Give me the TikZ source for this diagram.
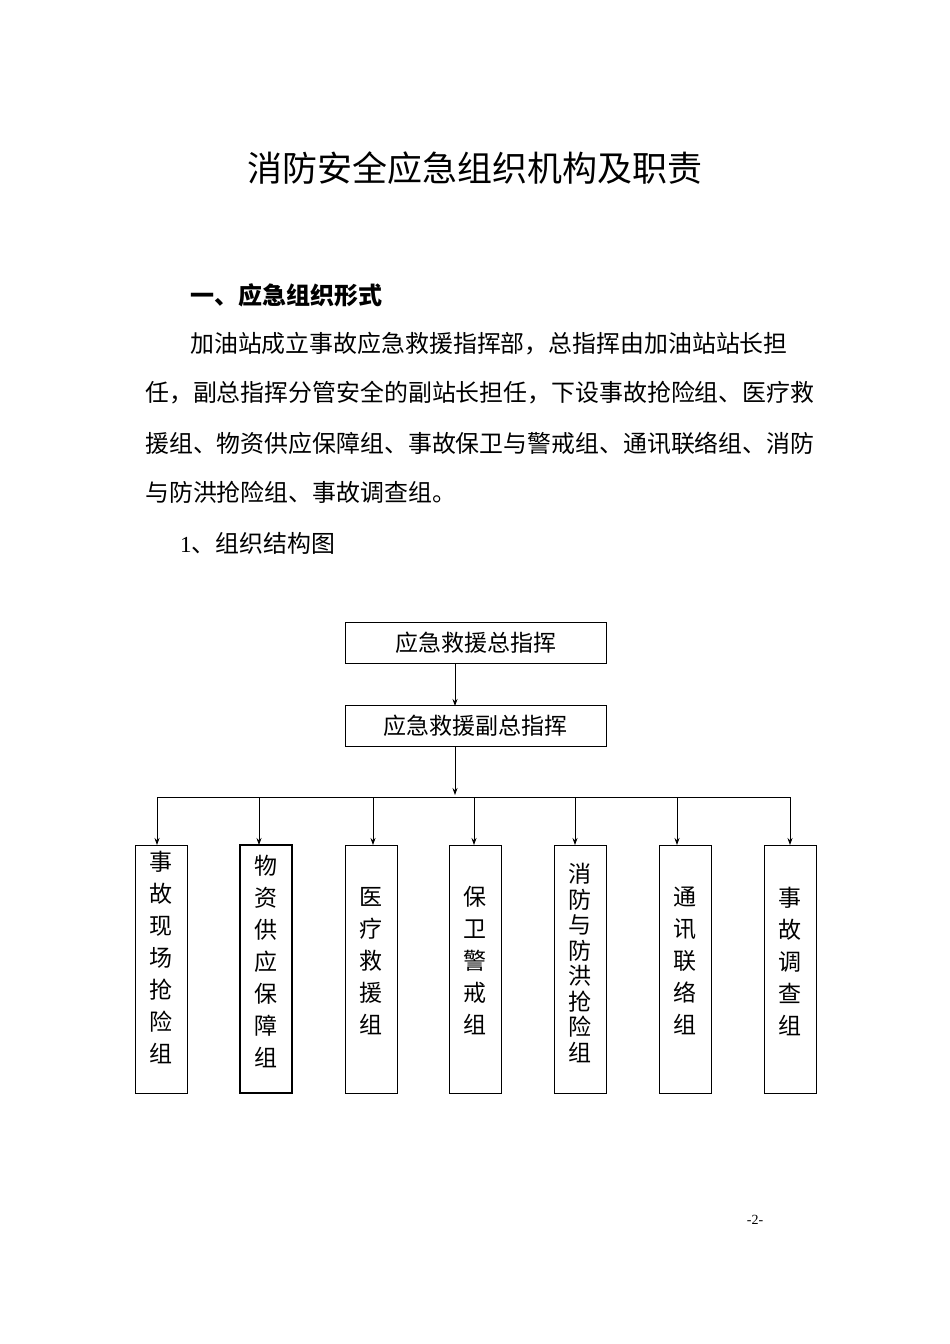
\documentclass[tikz,border=0pt]{standalone}
\usepackage{fontspec}
\setmainfont{Liberation Serif}
\newfontfamily\cjk{Noto Sans CJK SC}
\usetikzlibrary{arrows.meta}
\begin{document}
\begin{tikzpicture}[x=1pt,y=-1pt,
  txt/.style={font=\cjk\fontsize{23.9}{24}\selectfont,inner sep=0pt,anchor=west},
  topbox/.style={draw,line width=0.9pt,minimum width=261pt,minimum height=41pt,inner sep=0pt,font=\cjk\fontsize{23}{23}\selectfont},
  vbox/.style={draw,line width=0.9pt,minimum width=52pt,minimum height=248pt,inner sep=0pt},
  vt/.style={font=\cjk\fontsize{23}{32}\selectfont,align=center,inner sep=0pt,yshift=8pt},
  vtt/.style={font=\cjk\fontsize{23}{25.5}\selectfont,align=center,inner sep=0pt,yshift=6pt},
  arr/.style={-{Stealth[length=7pt,width=5pt]},line width=0.8pt}]
\useasboundingbox[fill=white] (0,0) rectangle (950,1344);
\node[font=\cjk\fontsize{35}{35}\selectfont,inner sep=0pt] (title) at (475,168) {消防安全应急组织机构及职责};
\node[txt,font=\cjk\bfseries\fontsize{24}{24}\selectfont] (h1) at (190,295) {一、应急组织形式};
\node[txt] (p1) at (190,344) {加油站成立事故应急救援指挥部，总指挥由加油站站长担};
\node[txt] (p2) at (145,393) {任，副总指挥分管安全的副站长担任，下设事故抢险组、医疗救};
\node[txt] (p3) at (145,443) {援组、物资供应保障组、事故保卫与警戒组、通讯联络组、消防};
\node[txt] (p4) at (145,492) {与防洪抢险组、事故调查组。};
\node[txt] (h2) at (180,543) {{\fontsize{23}{23}\selectfont\rmfamily 1}、组织结构图};
\node[topbox] (b1) at (475.5,642.5) {应急救援总指挥};
\node[topbox] (b2) at (475.5,726) {应急救援副总指挥};
\draw[arr] (455,663) -- (455,706);
\draw[arr] (455,746) -- (455,795);
\draw[line width=0.8pt] (157,797) -- (790,797);
\node[vbox] (c1) at (161,969) {};
\node[vbox,line width=1.4pt] (c2) at (266,969) {};
\node[vbox] (c3) at (371,969) {};
\node[vbox] (c4) at (475,969) {};
\node[vbox] (c5) at (580,969) {};
\node[vbox] (c6) at (685,969) {};
\node[vbox] (c7) at (790,969) {};
\node[vt,yshift=4pt] (t1) at (c1.center) {事\\故\\现\\场\\抢\\险\\组};
\node[vt] (t2) at (c2.center) {物\\资\\供\\应\\保\\障\\组};
\node[vt] (t3) at (c3.center) {医\\疗\\救\\援\\组};
\node[vt] (t4) at (c4.center) {保\\卫\\警\\戒\\组};
\node[vtt] (t5) at (c5.center) {消\\防\\与\\防\\洪\\抢\\险\\组};
\node[vt] (t6) at (c6.center) {通\\讯\\联\\络\\组};
\node[vt] (t7) at (c7.center) {事\\故\\调\\查\\组};
\foreach \x/\n in {157/c1,259/c2,373/c3,474/c4,575/c5,677/c6,790/c7}
  \draw[arr] (\x,797) -- (\x,845);
\node[font=\fontsize{14}{14}\selectfont,inner sep=0pt] (pg) at (755,1220) {-2-};
\end{tikzpicture}
\end{document}
